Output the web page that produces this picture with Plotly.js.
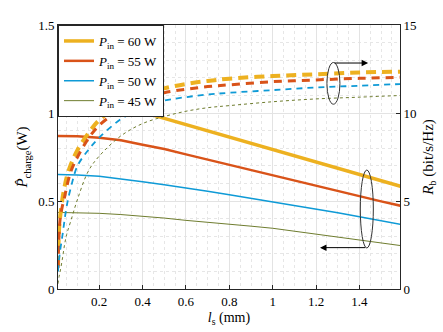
<!DOCTYPE html>
<html>
<head>
<meta charset="utf-8">
<script src="https://cdn.plot.ly/plotly-3.0.1.min.js"></script>
<style>
  html, body { margin: 0; padding: 0; background: #fff; }
  #chart { width: 443px; height: 332px; }
</style>
</head>
<body>
<div id="chart"></div>
<script>
// spacer length l_s (mm) for the charge power curves
const lsSolid = [0.01, 0.1, 0.2, 0.3, 0.4, 0.5, 0.6, 0.7, 0.8, 0.9, 1.0, 1.1, 1.2, 1.3, 1.4, 1.5, 1.6];
const pCharge60 = [1.07, 1.07, 1.06, 1.04, 1.005, 0.97, 0.935, 0.90, 0.865, 0.83, 0.79, 0.755, 0.72, 0.685, 0.65, 0.615, 0.58];
const pCharge55 = [0.87, 0.868, 0.86, 0.845, 0.82, 0.795, 0.765, 0.735, 0.705, 0.675, 0.648, 0.615, 0.585, 0.555, 0.525, 0.498, 0.47];
const pCharge50 = [0.65, 0.648, 0.64, 0.627, 0.61, 0.592, 0.575, 0.555, 0.535, 0.515, 0.496, 0.475, 0.455, 0.433, 0.41, 0.388, 0.365];
const pCharge45 = [0.435, 0.434, 0.43, 0.423, 0.415, 0.403, 0.39, 0.38, 0.37, 0.357, 0.345, 0.328, 0.31, 0.295, 0.28, 0.262, 0.245];

// l_s (mm) for the rate curves
const lsRate = [0.01, 0.015, 0.02, 0.03, 0.04, 0.05, 0.07, 0.1, 0.15, 0.2, 0.3, 0.4, 0.5, 0.6, 0.7, 0.8, 1.0, 1.2, 1.4, 1.6];
const rate60 = [1.3, 3.4, 4.1, 5.1, 5.8, 6.35, 7.1, 7.9, 8.85, 9.6, 10.5, 11.05, 11.4, 11.65, 11.82, 11.95, 12.1, 12.2, 12.3, 12.35];
const rate55 = [1.2, 3.1, 4.0, 4.7, 5.2, 5.8, 6.7, 7.5, 8.55, 9.3, 10.2, 10.8, 11.15, 11.35, 11.5, 11.6, 11.78, 11.88, 11.97, 12.03];
const rate50 = [1.0, 1.7, 2.2, 3.0, 3.9, 4.7, 5.8, 7.0, 7.9, 8.6, 9.65, 10.3, 10.7, 10.9, 11.05, 11.15, 11.3, 11.45, 11.55, 11.65];
const rate45 = [0.3, 0.7, 1.0, 1.7, 2.5, 3.1, 3.9, 5.1, 6.7, 7.55, 8.7, 9.4, 9.8, 10.1, 10.3, 10.42, 10.64, 10.8, 10.9, 11.0];

const powerLabels = ['60', '55', '50', '45'];
const colors = ['#EDB120', '#D95319', '#0E9AD6', '#6F7D2F'];
const solidWidths = [3.5, 2.5, 1.5, 1];
const dashWidths = [4, 3, 1.8, 1];
const dashStyles = ['10px,6px', '8px,6px', '6px,5px', '3px,3px'];

const solidSeries = [pCharge60, pCharge55, pCharge50, pCharge45];
const rateSeries = [rate60, rate55, rate50, rate45];

const SERIF = '"Liberation Serif", "Times New Roman", serif';

let traces = [];
for (let i = 0; i < 4; i++) {
  traces.push({
    x: lsSolid,
    y: solidSeries[i],
    mode: 'lines',
    name: '<i>P</i><sub>in</sub> = ' + powerLabels[i] + ' W',
    line: { color: colors[i], width: solidWidths[i] },
    yaxis: 'y'
  });
}
for (let i = 0; i < 4; i++) {
  traces.push({
    x: lsRate,
    y: rateSeries[i],
    mode: 'lines',
    showlegend: false,
    line: { color: colors[i], width: dashWidths[i], dash: dashStyles[i], shape: 'spline' },
    yaxis: 'y2'
  });
}

const axisColor = '#262626';

const layout = {
  width: 443,
  height: 332,
  margin: { l: 58, r: 43, t: 25, b: 43 },
  paper_bgcolor: '#fff',
  plot_bgcolor: '#fff',
  font: { family: SERIF, size: 13, color: '#000' },
  showlegend: true,
  legend: {
    x: 0, y: 1, xanchor: 'left', yanchor: 'top',
    bgcolor: '#fff',
    bordercolor: axisColor,
    borderwidth: 1,
    font: { family: SERIF, size: 13 },
    tracegroupgap: 0
  },
  xaxis: {
    range: [0.01, 1.587],
    tickvals: [0.2, 0.4, 0.6, 0.8, 1, 1.2, 1.4],
    ticktext: ['0.2', '0.4', '0.6', '0.8', '1', '1.2', '1.4'],
    ticks: 'inside', ticklen: 4, tickcolor: axisColor,
    showline: true, linecolor: axisColor, linewidth: 1, mirror: true,
    showgrid: true, gridcolor: '#e3e3e3', gridwidth: 1,
    minor: { dtick: 0.05, tick0: 0, showgrid: true, gridcolor: '#e6e6e6', griddash: 'dot', ticks: '' },
    zeroline: false,
    title: { text: '<i>l</i><sub>s</sub> (mm)', font: { family: SERIF, size: 14 }, standoff: 4 }
  },
  yaxis: {
    range: [0, 1.5],
    tickvals: [0, 0.5, 1, 1.5],
    ticktext: ['0', '0.5', '1', '1.5'],
    ticks: 'inside', ticklen: 4, tickcolor: axisColor,
    showline: true, linecolor: axisColor, linewidth: 1,
    showgrid: true, gridcolor: '#e3e3e3', gridwidth: 1,
    minor: { dtick: 0.1, tick0: 0, showgrid: true, gridcolor: '#e6e6e6', griddash: 'dot', ticks: '' },
    zeroline: false,
    title: { text: '<i>P&#770;</i><sub>charge</sub>(W)', font: { family: SERIF, size: 15 }, standoff: 6 }
  },
  yaxis2: {
    overlaying: 'y',
    side: 'right',
    range: [0, 15],
    tickvals: [0, 5, 10, 15],
    ticks: 'inside', ticklen: 4, tickcolor: axisColor,
    showline: true, linecolor: axisColor, linewidth: 1,
    showgrid: false, zeroline: false,
    title: { text: '<i>R</i><sub>b</sub> (bit/s/Hz)', font: { family: SERIF, size: 15 }, standoff: 6 }
  },
  shapes: [
    { type: 'circle', xref: 'x', yref: 'y', x0: 1.25, x1: 1.31, y0: 1.05, y1: 1.287,
      line: { color: '#333', width: 1 } },
    { type: 'circle', xref: 'x', yref: 'y', x0: 1.404, x1: 1.464, y0: 0.233, y1: 0.676,
      line: { color: '#333', width: 1 } }
  ],
  annotations: [
    { xref: 'x', yref: 'y', axref: 'x', ayref: 'y', x: 1.44, y: 1.284, ax: 1.278, ay: 1.284,
      text: '', showarrow: true, arrowhead: 2, arrowsize: 1.3, arrowwidth: 1, arrowcolor: '#000' },
    { xref: 'x', yref: 'y', axref: 'x', ayref: 'y', x: 1.218, y: 0.235, ax: 1.434, ay: 0.235,
      text: '', showarrow: true, arrowhead: 2, arrowsize: 1.3, arrowwidth: 1, arrowcolor: '#000' }
  ]
};

Plotly.newPlot('chart', traces, layout, { displayModeBar: false, staticPlot: true });
</script>
</body>
</html>
